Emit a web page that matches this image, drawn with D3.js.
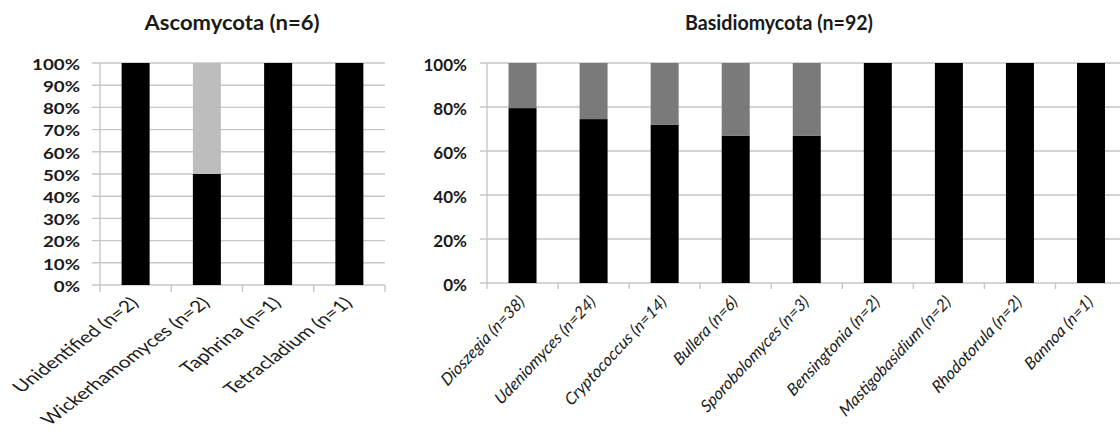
<!DOCTYPE html>
<html>
<head>
<meta charset="utf-8">
<script src="https://cdn.jsdelivr.net/npm/d3@7"></script>
<style>
  html, body { margin: 0; padding: 0; background: #fff; }
  svg { display: block; }
  text { font-family: Lato, "Open Sans", sans-serif; fill: #1a1a1a; }
</style>
</head>
<body>
<svg id="chart" width="1120" height="439"></svg>
<script>
// ---------- data ----------
const ascoTitle = "Ascomycota (n=6)";
const ascoCategories = ["Unidentified (n=2)", "Wickerhamomyces (n=2)", "Taphrina (n=1)", "Tetracladium (n=1)"];
const ascoLower = [100, 50, 100, 100];
const ascoUpper = [0, 50, 0, 0];
const ascoTicks = [0, 10, 20, 30, 40, 50, 60, 70, 80, 90, 100];

const basidioTitle = "Basidiomycota (n=92)";
const basidioCategories = ["Dioszegia (n=38)", "Udeniomyces (n=24)", "Cryptococcus (n=14)", "Bullera (n=6)",
  "Sporobolomyces (n=3)", "Bensingtonia (n=2)", "Mastigobasidium (n=2)", "Rhodotorula (n=2)", "Bannoa (n=1)"];
const basidioLower = [79.5, 74.5, 72, 67, 67, 100, 100, 100, 100];
const basidioUpper = [20.5, 25.5, 28, 33, 33, 0, 0, 0, 0];
const basidioTicks = [0, 20, 40, 60, 80, 100];

const svg = d3.select("#chart");

function drawPanel(cfg) {
  const g = svg.append("g");
  const x = d3.scaleBand().domain(cfg.categories).range([cfg.x0, cfg.x1]).paddingInner(0).paddingOuter(0);
  const y = d3.scaleLinear().domain([0, 100]).range([cfg.y0, cfg.y1]);
  const barW = 28;

  // gridlines
  g.selectAll("line.grid").data(cfg.ticks).enter().append("line")
    .attr("x1", cfg.x0 - cfg.yTickLen).attr("x2", cfg.gridEnd)
    .attr("y1", d => y(d)).attr("y2", d => y(d))
    .attr("stroke", "#c6c6c6").attr("stroke-width", 1.4);

  // y axis line
  g.append("line").attr("x1", cfg.x0).attr("x2", cfg.x0)
    .attr("y1", y(0)).attr("y2", y(100)).attr("stroke", "#c6c6c6").attr("stroke-width", 1.4);

  // x axis ticks at band boundaries
  const bounds = cfg.categories.map(c => x(c)).concat([x(cfg.categories[cfg.categories.length - 1]) + x.bandwidth()]);
  g.selectAll("line.xt").data(bounds).enter().append("line")
    .attr("x1", d => d).attr("x2", d => d)
    .attr("y1", y(0)).attr("y2", y(0) + cfg.xTickLen)
    .attr("stroke", "#c6c6c6").attr("stroke-width", 1.4);

  // bars
  const cx = c => x(c) + x.bandwidth() / 2;
  g.selectAll("rect.lo").data(cfg.categories).enter().append("rect")
    .attr("x", c => cx(c) - barW / 2).attr("width", barW)
    .attr("y", (c, i) => y(cfg.lower[i])).attr("height", (c, i) => y(0) - y(cfg.lower[i]))
    .attr("fill", "#000");
  g.selectAll("rect.up").data(cfg.categories).enter().append("rect")
    .attr("x", c => cx(c) - barW / 2).attr("width", barW)
    .attr("y", (c, i) => y(cfg.lower[i] + cfg.upper[i])).attr("height", (c, i) => y(cfg.lower[i]) - y(cfg.lower[i] + cfg.upper[i]))
    .attr("fill", cfg.upperColor);

  // y tick labels
  g.selectAll("text.yl").data(cfg.ticks).enter().append("text")
    .attr("transform", d => `translate(${cfg.x0 - 20},${y(d) + 1}) scale(${cfg.ySx},1)`)
    .attr("text-anchor", "end").attr("dominant-baseline", "central")
    .attr("font-size", cfg.yFont).attr("font-weight", "bold")
    .text(d => d + "%");

  // category labels
  g.selectAll("text.xl").data(cfg.categories).enter().append("text")
    .attr("transform", c => `translate(${cx(c) + cfg.lblDx},${y(0) + cfg.lblDy}) scale(${cfg.lblSx},1) rotate(-45)`)
    .attr("text-anchor", "end")
    .attr("font-size", cfg.xFont)
    .attr("font-style", cfg.italic ? "italic" : "normal")
    .attr("fill", "#222")
    .text(c => c);

  // title
  svg.append("text").attr("x", cfg.titleX).attr("y", 30)
    .attr("text-anchor", "middle").attr("font-size", 21).attr("font-weight", "bold")
    .attr("textLength", cfg.titleLen).attr("lengthAdjust", "spacingAndGlyphs")
    .text(cfg.title);
}

drawPanel({
  title: ascoTitle, titleX: 232, titleLen: 175,
  categories: ascoCategories, lower: ascoLower, upper: ascoUpper, ticks: ascoTicks,
  x0: 100, x1: 385, y0: 285, y1: 63, gridEnd: 385,
  upperColor: "#bdbdbd", ySx: 1.25, lblSx: 1.32, yFont: 15, xFont: 16, italic: false,
  yTickLen: 8, xTickLen: 7, lblDx: 4, lblDy: 19
});

drawPanel({
  title: basidioTitle, titleX: 779, titleLen: 188,
  categories: basidioCategories, lower: basidioLower, upper: basidioUpper, ticks: basidioTicks,
  x0: 487, x1: 487 + 9 * 71.06, y0: 283, y1: 63, gridEnd: 1120,
  upperColor: "#7a7a7a", ySx: 1, lblSx: 0.93, yFont: 17, xFont: 17, italic: true,
  yTickLen: 7, xTickLen: 6, lblDx: 3, lblDy: 20
});
</script>
</body>
</html>
